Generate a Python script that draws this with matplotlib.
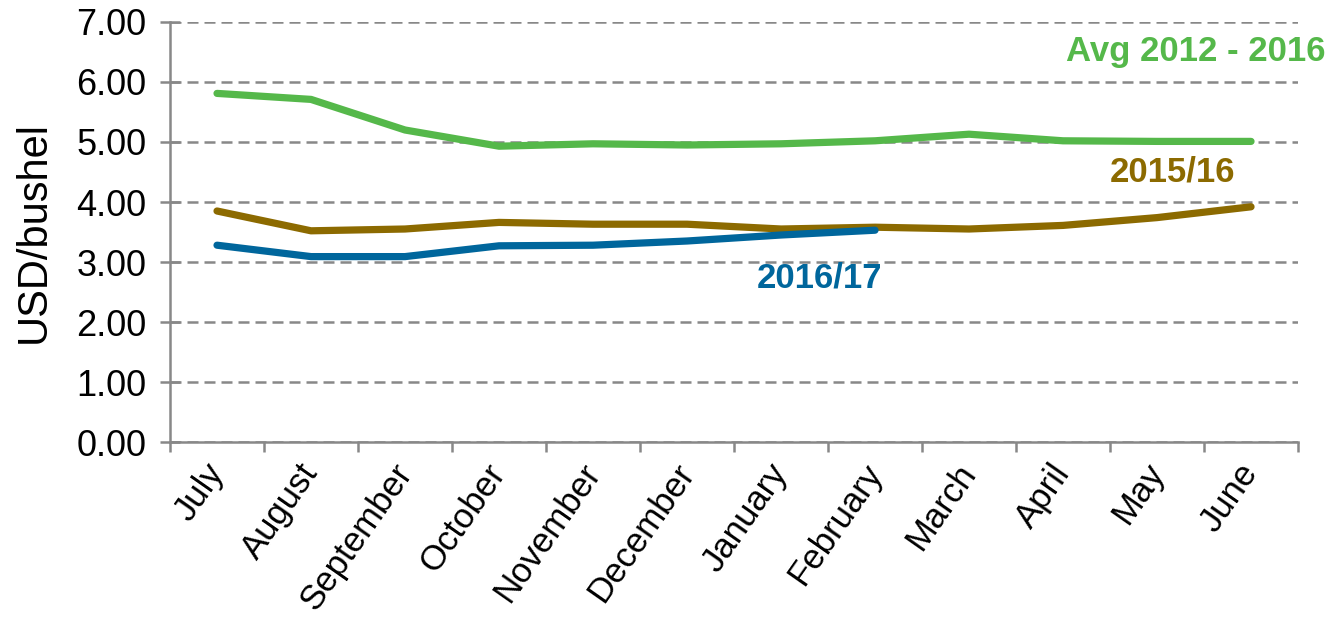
import matplotlib.pyplot as plt
import numpy as np

plt.rcParams['font.family'] = ['Liberation Sans', 'DejaVu Sans']

months = ['July', 'August', 'September', 'October', 'November', 'December',
          'January', 'February', 'March', 'April', 'May', 'June']
avg_2012_2016 = [5.81, 5.71, 5.20, 4.93, 4.97, 4.95, 4.97, 5.02, 5.13, 5.02, 5.01, 5.01]
y2015_16 = [3.85, 3.52, 3.55, 3.66, 3.63, 3.63, 3.55, 3.58, 3.55, 3.61, 3.74, 3.92]
y2016_17 = [3.28, 3.09, 3.09, 3.27, 3.28, 3.35, 3.45, 3.53]

green = '#55b84a'
brown = '#8c6a00'
blue = '#00669c'

fig = plt.figure(figsize=(13.44, 6.23), dpi=100)
ax = fig.add_axes([0.1265, 0.2905, 0.8393, 0.6742])

x = np.arange(len(months))
ax.plot(x, avg_2012_2016, color=green, linewidth=5.2, solid_capstyle='round', zorder=3)
ax.plot(x, y2015_16, color=brown, linewidth=5.2, solid_capstyle='round', zorder=3)
ax.plot(x[:len(y2016_17)], y2016_17, color=blue, linewidth=5.2, solid_capstyle='round', zorder=3)

ax.set_xlim(-0.5, 11.5)
ax.set_ylim(0, 7)
ax.set_yticks(np.arange(0, 8, 1))
ax.set_yticklabels(['%.2f' % v for v in np.arange(0, 8, 1)], fontsize=26)
ax.yaxis.grid(True, color='#888888', linestyle=(0, (4.4, 2.4)), linewidth=1.8)
ax.set_axisbelow(True)

# month labels sit at category centers, tick marks at boundaries
ax.set_xticks(x)
ax.set_xticklabels(months, rotation=55, ha='right', va='center',
                   rotation_mode='anchor', fontsize=25)
ax.tick_params(axis='x', which='major', length=0, pad=18)
ax.set_xticks(np.arange(-0.5, 12, 1), minor=True)
ax.tick_params(axis='x', which='minor', length=7, width=1.8, color='#888888', direction='out')
ax.tick_params(axis='y', length=14, width=1.8, color='#888888', direction='inout', pad=10)

for s in ['top', 'right']:
    ax.spines[s].set_visible(False)
for s in ['left', 'bottom']:
    ax.spines[s].set_color('#888888')
    ax.spines[s].set_linewidth(1.8)

ax.set_ylabel('USD/bushel', fontsize=30, labelpad=16)

ax.text(11.79, 6.5, 'Avg 2012 - 2016', color=green, fontsize=25, fontweight='bold',
        ha='right', va='center', clip_on=False)
ax.text(10.16, 4.5, '2015/16', color=brown, fontsize=25, fontweight='bold',
        ha='center', va='center')
ax.text(6.41, 2.73, '2016/17', color=blue, fontsize=25, fontweight='bold',
        ha='center', va='center')

fig.savefig('out.png', dpi=100)
